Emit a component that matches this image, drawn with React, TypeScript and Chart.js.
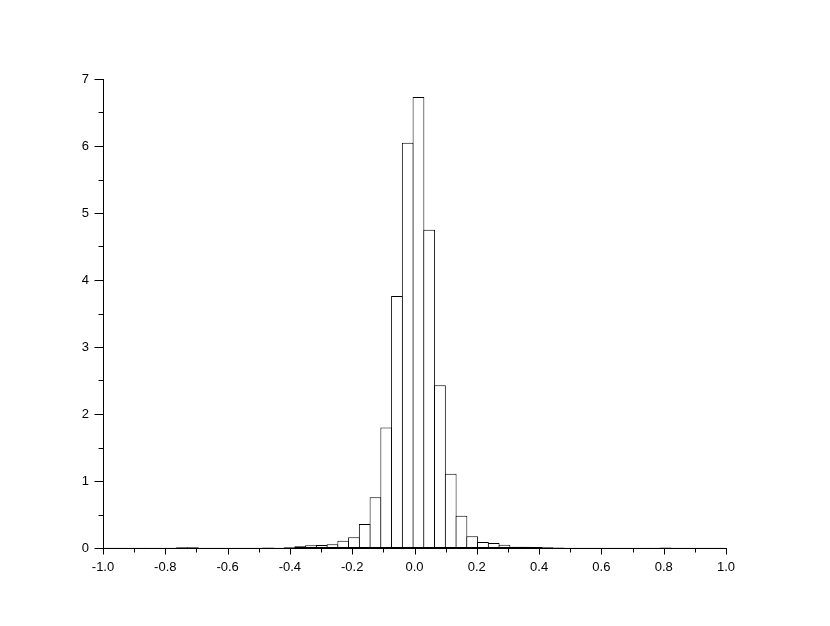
import React, { useEffect, useRef } from "react";
import { Chart, registerables } from "chart.js";

Chart.register(...registerables);

// Histogram bin centres (bin width ≈ 0.0345)
const binCenters = [
  -0.98775, -0.95325, -0.91875, -0.88425, -0.84975, -0.81525, -0.78075, -0.74625,
  -0.71175, -0.67725, -0.64275, -0.60825, -0.57375, -0.53925, -0.50475, -0.47025,
  -0.43575, -0.40125, -0.36675, -0.33225, -0.29775, -0.26325, -0.22875, -0.19425,
  -0.15975, -0.12525, -0.09075, -0.05625, -0.02175, 0.01275, 0.04725, 0.08175,
  0.11625, 0.15075, 0.18525, 0.21975, 0.25425, 0.28875, 0.32325, 0.35775,
  0.39225, 0.42675, 0.46125, 0.49575, 0.53025, 0.56475, 0.59925, 0.63375,
  0.66825, 0.70275, 0.73725, 0.77175, 0.80625, 0.84075, 0.87525, 0.90975,
  0.94425, 0.97875,
];

// Density values per bin
const densities = [
  0.002, 0.002, 0.003, 0.002, 0.003, 0.002, 0.004, 0.010,
  0.010, 0.004, 0.003, 0.004, 0.003, 0.003, 0.005, 0.008,
  0.005, 0.012, 0.025, 0.040, 0.045, 0.055, 0.110, 0.160,
  0.360, 0.757, 1.80, 3.76, 6.05, 6.73, 4.75, 2.43,
  1.11, 0.48, 0.175, 0.090, 0.075, 0.050, 0.020, 0.018,
  0.015, 0.012, 0.008, 0.005, 0.004, 0.003, 0.003, 0.003,
  0.003, 0.003, 0.003, 0.003, 0.006, 0.003, 0.003, 0.003,
  0.003, 0.002,
];

const xTickValues = [-1.0, -0.9, -0.8, -0.7, -0.6, -0.5, -0.4, -0.3, -0.2, -0.1, 0.0, 0.1, 0.2, 0.3, 0.4, 0.5, 0.6, 0.7, 0.8, 0.9, 1.0];
const xMajorTicks = [-1.0, -0.8, -0.6, -0.4, -0.2, 0.0, 0.2, 0.4, 0.6, 0.8, 1.0];
const yTickValues = [0, 0.5, 1, 1.5, 2, 2.5, 3, 3.5, 4, 4.5, 5, 5.5, 6, 6.5, 7];
const yMajorTicks = [0, 1, 2, 3, 4, 5, 6, 7];

const tickMarks = {
  id: "tickMarks",
  afterDraw(chart: any) {
    const ctx = chart.ctx;
    const xs = chart.scales.x;
    const ys = chart.scales.y;
    const area = chart.chartArea;
    ctx.save();
    ctx.strokeStyle = "#000";
    ctx.lineWidth = 1;
    ctx.beginPath();
    const bottom = Math.round(area.bottom) + 0.5;
    for (const v of xTickValues) {
      const px = Math.round(xs.getPixelForValue(v)) + 0.5;
      const major = xMajorTicks.some((m) => Math.abs(m - v) < 1e-9);
      const len = major ? 6 : 4;
      ctx.moveTo(px, bottom);
      ctx.lineTo(px, bottom + len);
    }
    const left = Math.round(area.left) + 0.5;
    for (const v of yTickValues) {
      const py = Math.round(ys.getPixelForValue(v)) + 0.5;
      const major = yMajorTicks.some((m) => Math.abs(m - v) < 1e-9);
      const len = major ? 9 : 5;
      ctx.moveTo(left, py);
      ctx.lineTo(left - len, py);
    }
    ctx.stroke();
    ctx.restore();
  },
};

export default function App() {
  const canvasRef = useRef<HTMLCanvasElement | null>(null);

  useEffect(() => {
    if (!canvasRef.current) return;
    const font = { family: "'Liberation Sans', Arial, Helvetica, sans-serif", size: 13 };
    const chart = new Chart(canvasRef.current, {
      type: "bar",
      data: {
        datasets: [
          {
            data: binCenters.map((c, i) => ({ x: c, y: densities[i] })),
            backgroundColor: "#ffffff",
            borderColor: "#000000",
            borderWidth: 1,
            borderSkipped: false,
            barPercentage: 1.093,
            categoryPercentage: 1,
          } as any,
        ],
      },
      options: {
        responsive: false,
        animation: false,
        events: [],
        layout: { padding: { left: 0, top: 79, right: 104, bottom: 0 } },
        plugins: {
          legend: { display: false },
          tooltip: { enabled: false },
          title: { display: false },
        },
        scales: {
          x: {
            type: "linear",
            min: -1,
            max: 1,
            offset: false,
            grid: { display: false, drawTicks: false },
            border: { display: true, color: "#000", width: 1 },
            afterFit: (s: any) => {
              s.height = 78;
            },
            afterBuildTicks: (s: any) => {
              s.ticks = xMajorTicks.map((v) => ({ value: v }));
            },
            ticks: {
              color: "#000",
              font,
              padding: 12,
              maxRotation: 0,
              autoSkip: false,
              callback: (v: any) => Number(v).toFixed(1),
            },
          },
          y: {
            type: "linear",
            min: 0,
            max: 7,
            grid: { display: false, drawTicks: false },
            border: { display: true, color: "#000", width: 1 },
            afterFit: (s: any) => {
              s.width = 103;
            },
            afterBuildTicks: (s: any) => {
              s.ticks = yMajorTicks.map((v) => ({ value: v }));
            },
            ticks: {
              color: "#000",
              font,
              padding: 14,
              autoSkip: false,
              callback: (v: any) => String(v),
            },
          },
        },
      } as any,
      plugins: [tickMarks],
    });
    return () => chart.destroy();
  }, []);

  return (
    <div style={{ position: "absolute", left: 0, top: 0, width: 830, height: 626, background: "#fff" }}>
      <canvas ref={canvasRef} width={830} height={626} />
    </div>
  );
}
